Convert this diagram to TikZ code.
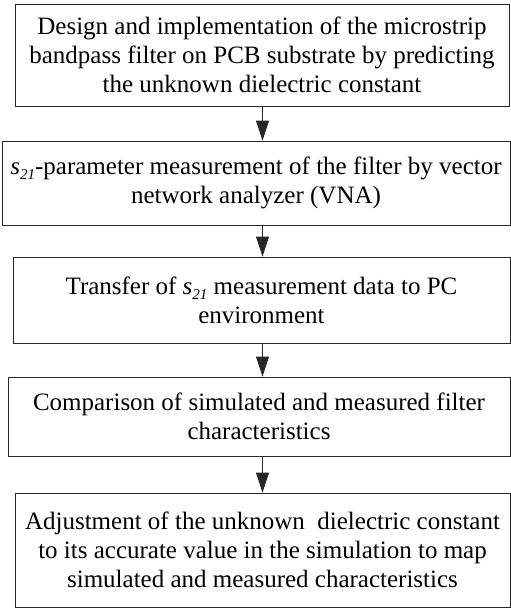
\documentclass[tikz,border=0pt]{standalone}
\usepackage{fontspec}
\setmainfont{Liberation Serif}
\usetikzlibrary{arrows.meta}
\newcommand{\stwoone}{\textit{s}\raisebox{-5pt}{\fontsize{15}{15}\selectfont\itshape 21}}

\begin{document}
\begin{tikzpicture}[x=1pt, y=-1pt,
    stepbox/.style={draw=black!85, line width=0.9pt, align=center, inner sep=0pt,
      font=\fontsize{25}{28.8}\selectfont},
    flow/.style={draw=black!85, line width=0.9pt, -{Triangle[length=20pt, width=13pt]}}]
  \useasboundingbox (0,0) rectangle (511,608);

  \node[stepbox, minimum width=494pt, minimum height=102pt] (design) at (262,55)
    {Design and implementation of the microstrip\\bandpass filter on PCB substrate by predicting\\the unknown dielectric constant};
  \node[stepbox, minimum width=508pt, minimum height=84pt] (measure) at (256,183)
    {\stwoone-parameter measurement of the filter by vector\\network analyzer (VNA)};
  \node[stepbox, minimum width=497pt, minimum height=86pt] (transfer) at (261.5,300)
    {Transfer of \stwoone\ measurement data to PC\\environment};
  \node[stepbox, minimum width=502pt, minimum height=79pt] (compare) at (259,416.5)
    {Comparison of simulated and measured filter\\characteristics};
  \node[stepbox, minimum width=495pt, minimum height=114pt] (adjust) at (262.5,550)
    {Adjustment of the unknown\ \ dielectric constant\\to its accurate value in the simulation to map\\simulated and measured characteristics};

  \coordinate (axis) at (262.5,0);

  \draw[flow] (design.south -| axis) -- (measure.north -| axis);
  \draw[flow] (measure.south -| axis) -- (transfer.north -| axis);
  \draw[flow] (transfer.south -| axis) -- (compare.north -| axis);
  \draw[flow] (compare.south -| axis) -- (adjust.north -| axis);
\end{tikzpicture}
\end{document}
